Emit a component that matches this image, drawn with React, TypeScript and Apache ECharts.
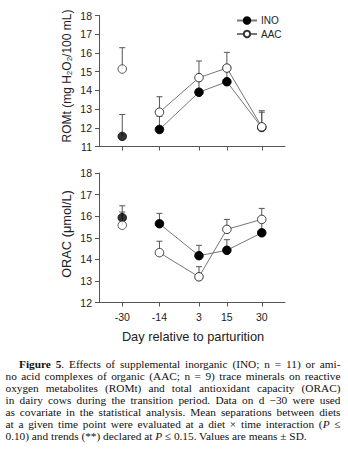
import React, { useEffect, useRef } from "react";
import * as echarts from "echarts";

const days = [-30, -14, 3, 15, 30];
const romtINO = [11.54, 11.91, 13.9, 14.46, 12.02];
const romtINOsd = [1.17, 0.7, 0.7, 0.7, 0.89];
const romtAAC = [15.14, 12.83, 14.68, 15.19, 12.05];
const romtAACsd = [1.14, 0.83, 0.89, 0.84, 0.78];
const oracINO = [15.93, 15.65, 14.17, 14.42, 15.23];
const oracINOsd = [0.55, 0.48, 0.48, 0.49, 0.5];
const oracAAC = [15.58, 14.31, 13.19, 15.39, 15.85];
const oracAACsd = [0.61, 0.53, 0.47, 0.46, 0.51];
const romtTicks = { min: 11, max: 18 };
const oracTicks = { min: 12, max: 18 };
const trendMark = { day: -14, y: 16.62, text: "**" };

const captionLines = [
  "<b>Figure 5</b>. Effects of supplemental inorganic (INO; n = 11) or ami-",
  "no acid complexes of organic (AAC; n = 9) trace minerals on reactive",
  "oxygen metabolites (ROMt) and total antioxidant capacity (ORAC)",
  "in dairy cows during the transition period. Data on d −30 were used",
  "as covariate in the statistical analysis. Mean separations between diets",
  "at a given time point were evaluated at a diet × time interaction (<i>P</i> ≤",
  "0.10) and trends (**) declared at <i>P</i> ≤ 0.15. Values are means ± SD.",
];

const AXIS = "#555";
const LINE = "#777";
const FONT = "Liberation Sans, Arial, sans-serif";

function pts(vals: number[], from: number, to?: number) {
  return days.slice(from, to).map((d, i) => [d, vals[i + from]]);
}

function errData(vals: number[], sd: number[]) {
  return days.map((d, i) => [d, vals[i], vals[i] + sd[i]]);
}

function errSeries(vals: number[], sd: number[], gi: number) {
  return {
    type: "custom",
    xAxisIndex: gi,
    yAxisIndex: gi,
    z: 1,
    silent: true,
    data: errData(vals, sd),
    renderItem: (params: any, api: any) => {
      const p0 = api.coord([api.value(0), api.value(1)]);
      const p1 = api.coord([api.value(0), api.value(2)]);
      return {
        type: "group",
        children: [
          {
            type: "line",
            shape: { x1: p0[0], y1: p0[1], x2: p1[0], y2: p1[1] },
            style: { stroke: AXIS, lineWidth: 1 },
          },
          {
            type: "line",
            shape: { x1: p1[0] - 3, y1: p1[1], x2: p1[0] + 3, y2: p1[1] },
            style: { stroke: AXIS, lineWidth: 1 },
          },
        ],
      };
    },
  };
}

const inoStyle = { color: "#000", borderColor: "#000", borderWidth: 1 };
const aacStyle = { color: "#fff", borderColor: "#333", borderWidth: 1 };

function lineSeries(name: string, vals: number[], gi: number, style: any) {
  return {
    name,
    type: "line",
    xAxisIndex: gi,
    yAxisIndex: gi,
    z: 3,
    data: pts(vals, 1),
    symbol: "circle",
    symbolSize: 8.5,
    showSymbol: true,
    itemStyle: style,
    lineStyle: { color: LINE, width: 1 },
  };
}

function firstPoint(name: string, vals: number[], gi: number, style: any) {
  return {
    name,
    type: "scatter",
    xAxisIndex: gi,
    yAxisIndex: gi,
    z: 3,
    data: pts(vals, 0, 1),
    symbol: "circle",
    symbolSize: 8.5,
    itemStyle: style,
  };
}

export default function App() {
  const ref = useRef<HTMLDivElement>(null);
  useEffect(() => {
    if (!ref.current) return;
    const chart = echarts.init(ref.current, null, { renderer: "svg" });
    const xAxisBase = {
      type: "value",
      min: -40,
      max: 40,
      splitLine: { show: false },
      axisLine: { lineStyle: { color: AXIS, width: 1 }, onZero: false },
      axisTick: { customValues: days, length: 4, lineStyle: { color: AXIS } },
    };
    const yAxisBase = {
      type: "value",
      interval: 1,
      splitLine: { show: false },
      axisLine: { show: true, onZero: false, lineStyle: { color: AXIS, width: 1 } },
      axisTick: { show: true, length: 4, lineStyle: { color: AXIS } },
      axisLabel: { color: "#222", fontSize: 10.5, fontFamily: FONT, margin: 7 },
    };
    chart.setOption({
      animation: false,
      grid: [
        { left: 99, top: 15.5, width: 186, height: 131 },
        { left: 99, top: 173, width: 186, height: 129.5 },
      ],
      xAxis: [
        { ...xAxisBase, gridIndex: 0, axisLabel: { show: false } },
        {
          ...xAxisBase,
          gridIndex: 1,
          axisLabel: {
            customValues: days,
            color: "#222",
            fontSize: 10.5,
            fontFamily: FONT,
            margin: 9,
          },
        },
      ],
      yAxis: [
        { ...yAxisBase, gridIndex: 0, min: romtTicks.min, max: romtTicks.max },
        { ...yAxisBase, gridIndex: 1, min: oracTicks.min, max: oracTicks.max },
      ],
      legend: {
        data: ["INO", "AAC"],
        orient: "vertical",
        left: 236,
        top: 15.5,
        itemWidth: 20,
        itemHeight: 8,
        itemGap: 3.5,
        padding: 0,
        selectedMode: false,
        textStyle: { fontSize: 10, fontFamily: FONT, color: "#222", padding: [0, 0, 0, -1] },
      },
      graphic: [
        {
          type: "text",
          x: 66.5,
          y: 76,
          rotation: Math.PI / 2,
          style: {
            text: "ROMt (mg H{s|2}O{s|2}/100 mL)",
            fontSize: 12,
            fontFamily: FONT,
            fill: "#222",
            align: "center",
            verticalAlign: "middle",
            rich: {
              s: { fontSize: 8, fontFamily: FONT, fill: "#222", padding: [5, 0, 0, 0] },
            },
          },
        },
        {
          type: "text",
          x: 66.5,
          y: 234,
          rotation: Math.PI / 2,
          style: {
            text: "ORAC (μmol/L)",
            fontSize: 12.8,
            fontFamily: FONT,
            fill: "#222",
            align: "center",
            verticalAlign: "middle",
          },
        },
        {
          type: "text",
          x: 193,
          y: 336.7,
          style: {
            text: "Day relative to parturition",
            fontSize: 12.8,
            fontFamily: FONT,
            fill: "#222",
            align: "center",
            verticalAlign: "middle",
          },
        },
      ],
      series: [
        errSeries(romtINO, romtINOsd, 0),
        errSeries(romtAAC, romtAACsd, 0),
        errSeries(oracINO, oracINOsd, 1),
        errSeries(oracAAC, oracAACsd, 1),
        lineSeries("INO", romtINO, 0, inoStyle),
        lineSeries("AAC", romtAAC, 0, aacStyle),
        firstPoint("INO", romtINO, 0, inoStyle),
        firstPoint("AAC", romtAAC, 0, aacStyle),
        lineSeries("INO", oracINO, 1, inoStyle),
        lineSeries("AAC", oracAAC, 1, aacStyle),
        firstPoint("INO", oracINO, 1, inoStyle),
        firstPoint("AAC", oracAAC, 1, aacStyle),
        {
          type: "scatter",
          xAxisIndex: 1,
          yAxisIndex: 1,
          silent: true,
          symbolSize: 1,
          itemStyle: { opacity: 0 },
          data: [[trendMark.day, trendMark.y]],
          label: {
            show: true,
            position: "inside",
            formatter: trendMark.text,
            fontSize: 12,
            fontFamily: FONT,
            color: "#222",
          },
        },
      ],
    });
    return () => chart.dispose();
  }, []);

  return (
    <div style={{ position: "absolute", left: 0, top: 0, width: 348, height: 454, background: "#fff" }}>
      <div ref={ref} style={{ position: "absolute", left: 0, top: 0, width: 348, height: 350 }} />
      <div
        style={{
          position: "absolute",
          left: 5.5,
          top: 358,
          width: 335,
          fontFamily: "'Liberation Serif', 'Times New Roman', serif",
          fontSize: 11.3,
          lineHeight: "12px",
          color: "#111",
        }}
      >
        {captionLines.map((l, i) => (
          <div
            key={i}
            style={{
              whiteSpace: "nowrap",
              textAlign: i === captionLines.length - 1 ? "left" : "justify",
              textAlignLast: i === captionLines.length - 1 ? "left" : "justify",
              paddingLeft: i === 0 ? 13.5 : 0,
            }}
            dangerouslySetInnerHTML={{ __html: l }}
          />
        ))}
      </div>
    </div>
  );
}
